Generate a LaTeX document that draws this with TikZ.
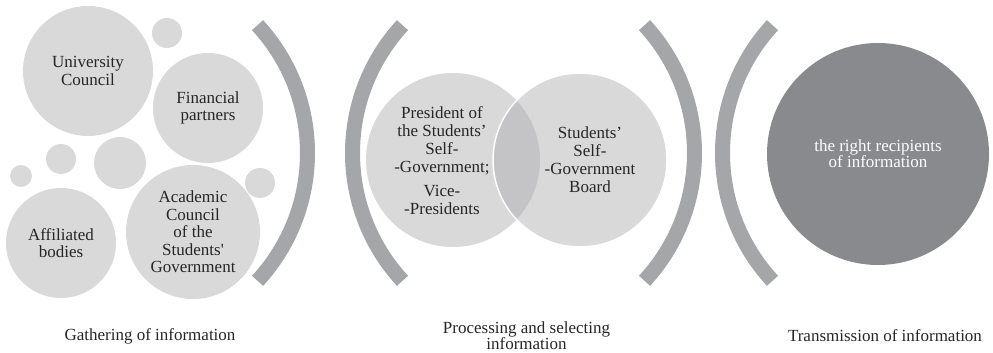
\documentclass[tikz,border=0pt]{standalone}
\usepackage{fontspec}
\setmainfont{Liberation Serif}[Ligatures=TeXOff]
\definecolor{bubble}{HTML}{D9D9DA}
\definecolor{overlap}{HTML}{C4C4C6}
\definecolor{bracket}{HTML}{A5A6A9}
\definecolor{deep}{HTML}{898A8E}
\definecolor{ink}{HTML}{262626}
\begin{document}
\begin{tikzpicture}[x=1pt,y=1pt,
  bub/.style={circle,fill=bubble,draw=none,inner sep=0pt,minimum size=#1,
    text=ink,align=center,font=\fontsize{17}{17.5}\selectfont},
  dot/.style={circle,fill=bubble,draw=none,inner sep=0pt,minimum size=#1},
  brace/.style={draw=bracket,line width=15pt,line cap=butt},
  caption/.style={text=ink,align=center,font=\fontsize{17}{16}\selectfont},
  txt/.style={text=ink,align=center,font=\fontsize{17}{18}\selectfont}]
\useasboundingbox (0,0) rectangle (993,353);

% --- gathering: cluster of bubbles ---
\node[bub=130pt] (uc) at (88,282) {University\\Council};
\node[dot=30pt]  (d1) at (167,320) {};
\node[bub=110pt] (fp) at (208,245) {Financial\\partners};
\node[dot=22pt]  (d2) at (21,177) {};
\node[dot=30pt]  (d3) at (61,194) {};
\node[dot=52pt]  (d4) at (120,190) {};
\node[bub=110pt] (ab) at (61,110) {Affiliated\\bodies};
\node[bub=134pt] (ac) at (193,121) {Academic\\Council\\of the\\Students'\\Government};
\node[dot=30pt]  (d5) at (260,170) {};

% --- bracket arcs ---
\coordinate (c1) at (119,200);
\coordinate (c2) at (541,200);
\coordinate (c3) at (506,200);
\coordinate (c4) at (911,200);
\draw[brace] (c1) ++(-42.7:188.5) arc[start angle=-42.7,end angle=42.7,radius=188.5];
\draw[brace] (c2) ++(137.3:188.5) arc[start angle=137.3,end angle=222.7,radius=188.5];
\draw[brace] (c3) ++(-42.7:188.5) arc[start angle=-42.7,end angle=42.7,radius=188.5];
\draw[brace] (c4) ++(137.3:188.5) arc[start angle=137.3,end angle=222.7,radius=188.5];

% --- processing: two overlapping circles ---
\node[dot=174pt] (vl) at (453,193) {};
\node[dot=174pt] (vr) at (580,193) {};
\begin{scope}
  \clip (vl.center) circle (87);
  \fill[overlap] (vr.center) circle (87);
\end{scope}
\draw[white,line width=1.5pt] (vr.center) circle (87);
\node[txt] (vlt) at ([xshift=-11pt,yshift=-1pt]vl.center)
  {President of\\the Students’\\Self-\\-Government;\\[6pt]Vice-\\-Presidents};
\node[txt] (vrt) at ([xshift=10pt]vr.center)
  {Students’\\Self-\\-Government\\Board};

% --- transmission ---
\node[circle,fill=deep,inner sep=0pt,minimum size=222pt,text=white,align=center,
  font=\fontsize{17}{16}\selectfont] (rr) at (878,199) {the right recipients\\of information};

% --- stage captions ---
\node[caption] (g) at (150,17) {Gathering of information};
\node[caption] (p) at (526.5,17) {Processing and selecting\\information};
\node[caption] (t) at (885,17) {Transmission of information};
\end{tikzpicture}
\end{document}
